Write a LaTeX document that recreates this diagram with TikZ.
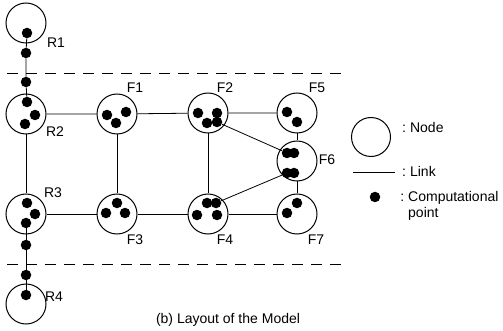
\documentclass[tikz,border=0pt]{standalone}
\usepackage{fontspec}
\setmainfont{Liberation Sans}

\tikzset{
  site/.style={circle, draw, line width=1pt, minimum size=40pt, inner sep=0pt},
  cpt/.style={circle, fill, inner sep=0pt, minimum size=10.5pt},
  link/.style={line width=0.8pt},
  lbl/.style={font=\fontsize{14}{16.5}\selectfont, inner sep=0pt}
}

\begin{document}
\begin{tikzpicture}[x=1pt, y=-1pt]
\useasboundingbox (0,0) rectangle (503,331);

% The sites
\node[site] (R1) at (26,23) {};
\node[site] (R2) at (26,114) {};
\node[site] (R3) at (26,214) {};
\node[site] (R4) at (26,304) {};
\node[site] (F1) at (117,114) {};
\node[site] (F2) at (208,113) {};
\node[site] (F5) at (297,113) {};
\node[site] (F6) at (297,161) {};
\node[site] (F3) at (117,214) {};
\node[site] (F4) at (208,214) {};
\node[site] (F7) at (297,214) {};

% The labels
\node[lbl] (lR1) at (56,43) {R1};
\node[lbl] (lR2) at (55,132) {R2};
\node[lbl] (lR3) at (53,193) {R3};
\node[lbl] (lR4) at (54,297) {R4};
\node[lbl] (lF1) at (135,88) {F1};
\node[lbl] (lF2) at (225,88) {F2};
\node[lbl] (lF5) at (317,88) {F5};
\node[lbl] (lF6) at (327,160) {F6};
\node[lbl] (lF3) at (135,240) {F3};
\node[lbl] (lF4) at (225,240) {F4};
\node[lbl] (lF7) at (316,240) {F7};

% The computational points
\node[cpt] (R1a) at (27,33) {};
\node[cpt] (c1) at (26,53) {};
\node[cpt] (c2) at (26,82) {};
\node[cpt] (R2a) at (27,102) {};
\node[cpt] (R2b) at (35,115) {};
\node[cpt] (R2c) at (25,124) {};
\node[cpt] (F1a) at (107,115) {};
\node[cpt] (F1b) at (126,112) {};
\node[cpt] (F1c) at (116,123) {};
\node[cpt] (F2a) at (198,113) {};
\node[cpt] (F2b) at (217,113) {};
\node[cpt] (F2c) at (207,123) {};
\node[cpt] (F2d) at (217,122) {};
\node[cpt] (F5a) at (287,112) {};
\node[cpt] (F5b) at (297,122) {};
\node[cpt] (F6a) at (287,153) {};
\node[cpt] (F6b) at (294,153) {};
\node[cpt] (F6c) at (287,173) {};
\node[cpt] (F6d) at (294,173) {};
\node[cpt] (R3a) at (27,203) {};
\node[cpt] (R3b) at (35,214) {};
\node[cpt] (R3c) at (26,223) {};
\node[cpt] (F3a) at (117,203) {};
\node[cpt] (F3b) at (106,213) {};
\node[cpt] (F3c) at (125,213) {};
\node[cpt] (F4a) at (207,203) {};
\node[cpt] (F4b) at (216,203) {};
\node[cpt] (F4c) at (197,215) {};
\node[cpt] (F4d) at (217,215) {};
\node[cpt] (F7a) at (297,203) {};
\node[cpt] (F7b) at (287,213) {};
\node[cpt] (c3) at (26,245) {};
\node[cpt] (c4) at (26,275) {};
\node[cpt] (R4a) at (26,295) {};

% The links
\draw[link] (R2) -- (F1) -- (F2) -- (F5);
\draw[link] (R3) -- (F3) -- (F4) -- (F7);
\draw[link] (R2) -- (R3);
\draw[link] (F1) -- (F3);
\draw[link] (F2) -- (F4);
\draw[link] (F5) -- (F6) -- (F7);
\draw[link] (F2d) -- (F6a);
\draw[link] (F4b) -- (F6c);
\draw[link] (R1a) -- (c1) -- (c2) -- (R2a);
\draw[link] (R3c) -- (c3) -- (c4) -- (R4a);

% The borders
\draw[link, dash pattern=on 11pt off 8pt] (7,73) -- (346,73);
\draw[link, dash pattern=on 11pt off 8pt] (7,264) -- (346,264);

% The key
\node[site, minimum size=39pt] (kNode) at (371,137) {};
\node[lbl, anchor=west] (tNode) at (402,127) {:\hspace{4pt}Node};
\coordinate (kLinkA) at (353,172);
\coordinate (kLinkB) at (395,172);
\draw[link] (kLinkA) -- (kLinkB);
\node[lbl, anchor=west] (tLink) at (402,171) {:\hspace{4pt}Link};
\node[cpt] (kCpt) at (375,197) {};
\node[lbl, anchor=north west, align=left] (tCpt) at (408,191)
  {\llap{:\hspace{4pt}}Computational\\point};

% Caption
\node[lbl] (cap) at (228,320) {(b) Layout of the Model};

\end{tikzpicture}
\end{document}
